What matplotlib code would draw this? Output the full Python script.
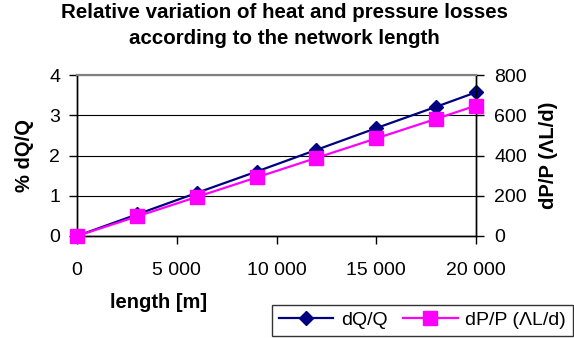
import matplotlib
matplotlib.use('Agg')
import matplotlib.pyplot as plt
from matplotlib.ticker import FuncFormatter

plt.rcParams['font.family'] = ['Liberation Sans', 'DejaVu Sans']

# network length [m]
length = [0, 3000, 6000, 9000, 12000, 15000, 18000, 20000]
# heat losses, % dQ/Q
dq_q = [0, 0.535, 1.07, 1.60, 2.14, 2.68, 3.21, 3.57]
# pressure losses, dP/P (lambda L/d)
dp_p = [0, 97, 194, 291, 388, 485, 582, 648]

x_ticks = [0, 5000, 10000, 15000, 20000]
left_ticks = [0, 1, 2, 3, 4]
right_ticks = [0, 200, 400, 600, 800]

fig = plt.figure(figsize=(5.74, 3.38), dpi=100)
ax = fig.add_axes([77 / 574, 1 - 236 / 338, 399 / 574, 161 / 338])
ax2 = ax.twinx()

l1, = ax.plot(length, dq_q, color='#000080', lw=1.6, marker='D', ms=7.3,
              label='dQ/Q', clip_on=False, zorder=3)
l2, = ax2.plot(length, dp_p, color='#FF00FF', lw=1.6, marker='s', ms=10.3,
               label='dP/P (ΛL/d)', clip_on=False, zorder=3)

ax.set_xlim(0, 20000)
ax.set_ylim(0, 4)
ax2.set_ylim(0, 800)
ax.set_xticks(x_ticks)
ax.set_yticks(left_ticks)
ax2.set_yticks(right_ticks)
ax.xaxis.set_major_formatter(FuncFormatter(lambda v, p: f'{int(v):,}'.replace(',', ' ')))

ax.grid(axis='y', color='black', lw=0.8)
ax.set_axisbelow(True)

for a in (ax, ax2):
    for s in a.spines.values():
        s.set_color('black')
        s.set_linewidth(1.0)
    a.spines['top'].set_color('#808080')
    a.spines['top'].set_linewidth(1.5)
    a.tick_params(labelsize=14, length=6, width=1.0, color='black')

ax.tick_params(axis='x', pad=13)
ax.tick_params(axis='y', pad=6)
ax2.tick_params(axis='y', pad=7)

fig.text(0.495, 1 - 3 / 338, 'Relative variation of heat and pressure losses\naccording to the network length',
         ha='center', va='top', fontsize=14.8, weight='bold', linespacing=1.45)
fig.text(159 / 574, 1 - 302 / 338, 'length [m]', ha='center', va='center',
         fontsize=14.5, weight='bold')
fig.text(24 / 574, 1 - 155 / 338, '% dQ/Q', ha='center', va='center', rotation=90,
         fontsize=14.5, weight='bold')
fig.text(549 / 574, 1 - 155 / 338, 'dP/P (ΛL/d)', ha='center', va='center', rotation=90,
         fontsize=14.5, weight='bold')

leg = fig.legend([l1, l2], ['dQ/Q', 'dP/P (ΛL/d)'], loc='lower right',
                 bbox_to_anchor=(573 / 574, 1 - 336 / 338), ncol=2, fontsize=14,
                 frameon=True, fancybox=False, edgecolor='black', borderaxespad=0,
                 handlelength=2.8, columnspacing=0.8, handletextpad=0.4,
                 borderpad=0.35)
leg.get_frame().set_linewidth(1.0)

fig.savefig('out.png', dpi=100)
